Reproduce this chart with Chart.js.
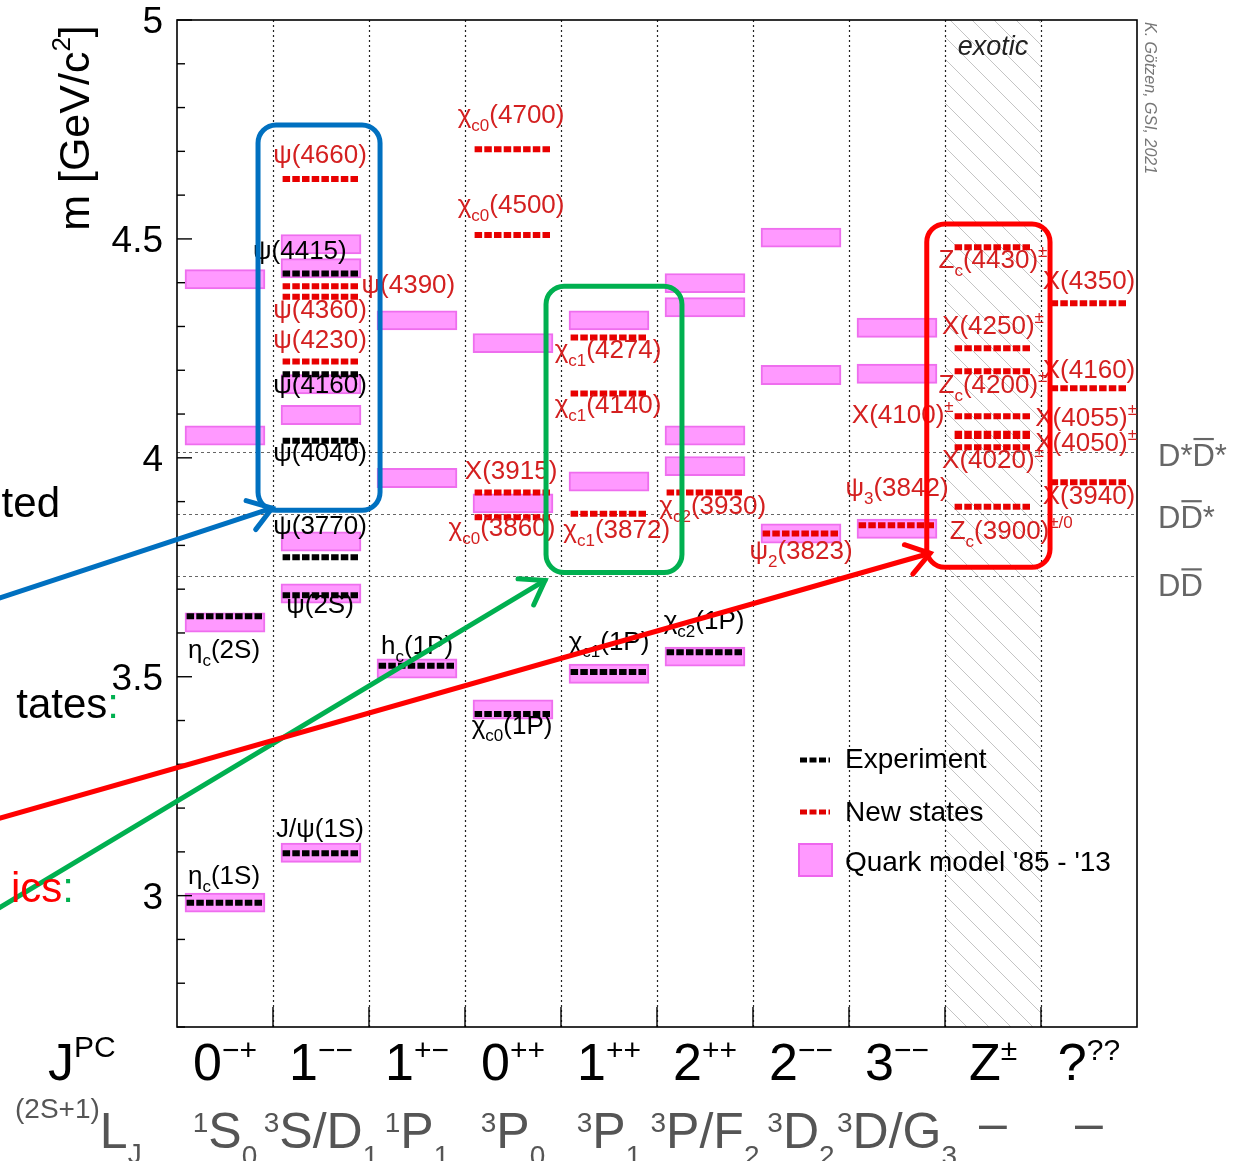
<!DOCTYPE html>
<html>
<head>
<meta charset="utf-8">
<script src="https://cdn.jsdelivr.net/npm/chart.js@4.4.1/dist/chart.umd.min.js"></script>
<style>
  html, body { margin: 0; padding: 0; background: #fff; }
  canvas { display: block; }
</style>
</head>
<body>
<canvas id="spectrum" width="1240" height="1161"></canvas>
<script>
//--------------------------------------------------------------------------------//
//                              Data
//--------------------------------------------------------------------------------//
// column headings (J^PC) and spectroscopic notation
var jpcLabels  = ['0^{−+}', '1^{−−}', '1^{+−}', '0^{++}', '1^{++}', '2^{++}', '2^{−−}', '3^{−−}', 'Z^{±}', '?^{??}'];
var waveLabels = ['^{1}S_{0}', '^{3}S/D_{1}', '^{1}P_{1}', '^{3}P_{0}', '^{3}P_{1}', '^{3}P/F_{2}', '^{3}D_{2}', '^{3}D/G_{3}', '–', '–'];
var massTicks  = [3, 3.5, 4, 4.5, 5];

// quark model predictions (pink boxes)
var modelCol  = [0, 0, 0, 0, 1, 1, 1, 1, 1, 1, 1, 2, 2, 2, 3, 3, 3, 4, 4, 4, 5, 5, 5, 5, 5, 6, 6, 6, 7, 7, 7];
var modelMass = [4.408, 4.051, 3.624, 2.984,
                 4.488, 4.433, 4.168, 4.098, 3.809, 3.690, 3.098,
                 4.314, 3.954, 3.519,
                 4.262, 3.896, 3.425,
                 4.314, 3.946, 3.507,
                 4.399, 4.344, 4.051, 3.981, 3.546,
                 4.503, 4.189, 3.827,
                 4.297, 4.192, 3.838];

// established states (black)
var expCol  = [0, 0, 1, 1, 1, 1, 1, 1, 2, 3, 4, 5];
var expMass = [3.638, 2.984, 4.421, 4.191, 4.039, 3.773, 3.686, 3.097, 3.525, 3.415, 3.511, 3.556];

// new states (red)
var newCol  = [1, 1, 1, 1, 3, 3, 3, 3, 4, 4, 4, 5, 6, 7, 8, 8, 8, 8, 8, 8, 8, 8, 9, 9, 9];
var newMass = [4.637, 4.392, 4.368, 4.220,
               4.705, 4.509, 3.921, 3.864,
               4.275, 4.147, 3.872,
               3.921, 3.827, 3.846,
               4.481, 4.250, 4.198, 4.095, 4.055, 4.050, 4.024, 3.888,
               4.353, 4.159, 3.944];

// state names (x = column units, y = mass of the text baseline)
var labelText = ['η_{c}(2S)', 'η_{c}(1S)', 'ψ(4660)', 'ψ(4415)', 'ψ(4390)', 'ψ(4360)', 'ψ(4230)', 'ψ(4160)',
                 'ψ(4040)', 'ψ(3770)', 'ψ(2S)', 'J/ψ(1S)', 'h_{c}(1P)', 'χ_{c0}(4700)', 'χ_{c0}(4500)', 'X(3915)',
                 'χ_{c0}(3860)', 'χ_{c0}(1P)', 'χ_{c1}(4274)', 'χ_{c1}(4140)', 'χ_{c1}(3872)', 'χ_{c1}(1P)',
                 'χ_{c2}(3930)', 'χ_{c2}(1P)', 'ψ_{2}(3823)', 'ψ_{3}(3842)', 'X(4100)^{±}', 'Z_{c}(4430)^{±}',
                 'X(4250)^{±}', 'Z_{c}(4200)^{±}', 'X(4020)^{±}', 'Z_{c}(3900)^{±/0}', 'X(4350)', 'X(4160)',
                 'X(4055)^{±}', 'X(4050)^{±}', 'X(3940)'];
var labelX = [0.49, 0.49, 1.49, 1.28, 2.41, 1.49, 1.49, 1.49, 1.49, 1.49, 1.49, 1.49, 2.5,
              3.48, 3.48, 3.48, 3.385, 3.49, 4.49, 4.49, 4.58, 4.5, 5.58, 5.49, 6.5, 7.5, 7.56,
              8.5, 8.5, 8.5, 8.5, 8.69, 9.5, 9.5, 9.47, 9.47, 9.5];
var labelY = [3.542, 3.027, 4.673, 4.454, 4.376, 4.319, 4.250, 4.147, 3.992, 3.825, 3.645, 3.135, 3.551,
              4.765, 4.559, 3.951, 3.821, 3.370, 4.227, 4.102, 3.816, 3.562, 3.871, 3.608, 3.768, 3.912, 4.079,
              4.433, 4.282, 4.147, 3.976, 3.814, 4.385, 4.182, 4.072, 4.015, 3.894];
var labelNew = [0, 0, 1, 0, 1, 1, 1, 0, 0, 0, 0, 0, 0, 1, 1, 1, 1, 0, 1, 1, 1, 0, 1, 0, 1, 1, 1,
                1, 1, 1, 1, 1, 1, 1, 1, 1, 1];

// open-charm thresholds
var thresholdMass  = [4.014, 3.872, 3.730];
var thresholdLabel = ['D*~{D}*', 'D~{D}*', 'D~{D}'];

// slide annotations (blue, green, red), in column / mass units
var markColor = ['#0070c0', '#00b050', '#ff0000'];
var markX0 = [0.844, 3.844, 7.81];
var markX1 = [2.115, 5.26, 9.094];
var markY0 = [4.76, 4.392, 4.534];
var markY1 = [3.88, 3.738, 3.75];
var arrowX0 = [-1.86, -1.86, -1.86];
var arrowY0 = [3.679, 2.971, 3.176];
var arrowX1 = [0.99, 3.833, 7.844];
var arrowY1 = [3.885, 3.72, 3.782];

//--------------------------------------------------------------------------------//
//                              Helpers
//--------------------------------------------------------------------------------//
var FONT = '"Liberation Sans", Arial, sans-serif';
var BOX_HALF = 0.022;

function levelPoints(cols, masses) {
    var pts = [];
    cols.forEach(function (c, i) {
        pts.push({x: c + 0.1, y: masses[i]});
        pts.push({x: c + 0.9, y: masses[i]});
        pts.push({x: c + 0.9, y: null});
    });
    return pts;
}

function parseRich(str) {
    var out = [], buf = '', i = 0;
    while (i < str.length) {
        var ch = str[i];
        if ((ch === '_' || ch === '^' || ch === '~') && str[i + 1] === '{') {
            if (buf) { out.push({t: buf, m: 'n'}); buf = ''; }
            var end = str.indexOf('}', i + 2);
            out.push({t: str.slice(i + 2, end), m: ch === '_' ? 'sub' : ch === '^' ? 'sup' : 'bar'});
            i = end + 1;
        } else { buf += ch; i++; }
    }
    if (buf) out.push({t: buf, m: 'n'});
    return out;
}

// small rich-text renderer: _{} subscript, ^{} superscript, ~{} overline
function drawRich(ctx, str, x, y, o) {
    var parts = parseRich(str);
    var small = o.small || 0.62;
    var fontFor = function (m) {
        var s = (m === 'sub' || m === 'sup') ? Math.round(o.size * small) : o.size;
        return (o.italic ? 'italic ' : '') + s + 'px ' + FONT;
    };
    var w = 0;
    parts.forEach(function (p) { ctx.font = fontFor(p.m); p.w = ctx.measureText(p.t).width; w += p.w; });
    ctx.save();
    ctx.translate(x, y);
    if (o.rot) ctx.rotate(o.rot);
    var cx = o.align === 'center' ? -w / 2 : o.align === 'right' ? -w : 0;
    ctx.fillStyle = o.color || '#000';
    ctx.strokeStyle = o.color || '#000';
    ctx.textAlign = 'left';
    ctx.textBaseline = 'alphabetic';
    parts.forEach(function (p) {
        ctx.font = fontFor(p.m);
        var dy = p.m === 'sub' ? o.size * (o.subDy || 0.3) : p.m === 'sup' ? -o.size * (o.supDy || 0.42) : 0;
        ctx.fillText(p.t, cx, dy);
        if (p.m === 'bar') {
            ctx.lineWidth = Math.max(1.5, o.size * 0.07);
            ctx.beginPath();
            ctx.moveTo(cx + 1, -o.size * 0.86);
            ctx.lineTo(cx + p.w - 1, -o.size * 0.86);
            ctx.stroke();
        }
        cx += p.w;
    });
    ctx.restore();
}

function drawArrow(ctx, x0, y0, x1, y1, color) {
    ctx.strokeStyle = color;
    ctx.lineWidth = 5;
    ctx.lineCap = 'round';
    ctx.beginPath(); ctx.moveTo(x0, y0); ctx.lineTo(x1, y1); ctx.stroke();
    var a = Math.atan2(y1 - y0, x1 - x0), L = 27, s = 0.6;
    ctx.beginPath();
    ctx.moveTo(x1 - L * Math.cos(a - s), y1 - L * Math.sin(a - s));
    ctx.lineTo(x1, y1);
    ctx.lineTo(x1 - L * Math.cos(a + s), y1 - L * Math.sin(a + s));
    ctx.stroke();
}

//--------------------------------------------------------------------------------//
//                              Plugins
//--------------------------------------------------------------------------------//
var backdrop = {
    id: 'backdrop',
    beforeDraw: function (chart) {
        var ctx = chart.ctx;
        ctx.save();
        ctx.fillStyle = '#fff';
        ctx.fillRect(0, 0, chart.width, chart.height);
        ctx.restore();
    },
    beforeDatasetsDraw: function (chart) {
        var ctx = chart.ctx, a = chart.chartArea, sx = chart.scales.x, sy = chart.scales.y;
        ctx.save();
        // hatched "exotic" column
        var hx0 = sx.getPixelForValue(8), hx1 = sx.getPixelForValue(9), h = a.bottom - a.top;
        ctx.beginPath(); ctx.rect(hx0, a.top, hx1 - hx0, h); ctx.clip();
        ctx.strokeStyle = '#c4c4c4'; ctx.lineWidth = 1;
        for (var x = hx0 - h; x < hx1; x += 22) {
            ctx.beginPath(); ctx.moveTo(x, a.top); ctx.lineTo(x + h, a.bottom); ctx.stroke();
        }
        ctx.restore();

        ctx.save();
        // column separators
        ctx.strokeStyle = '#222'; ctx.lineWidth = 1.2; ctx.setLineDash([2, 3]);
        for (var c = 1; c < jpcLabels.length; c++) {
            var xp = Math.round(sx.getPixelForValue(c)) + 0.5;
            ctx.beginPath(); ctx.moveTo(xp, a.top); ctx.lineTo(xp, a.bottom); ctx.stroke();
        }
        // thresholds
        ctx.strokeStyle = '#666'; ctx.lineWidth = 1; ctx.setLineDash([3, 3]);
        thresholdMass.forEach(function (m) {
            var yp = Math.round(sy.getPixelForValue(m)) + 0.5;
            ctx.beginPath(); ctx.moveTo(a.left, yp); ctx.lineTo(a.right, yp); ctx.stroke();
        });
        ctx.restore();
    },
    afterDatasetsDraw: function (chart) {
        var ctx = chart.ctx, a = chart.chartArea, sx = chart.scales.x, sy = chart.scales.y;
        ctx.save();
        // frame and ticks
        ctx.strokeStyle = '#000'; ctx.lineWidth = 1.6;
        ctx.strokeRect(a.left, a.top, a.right - a.left, a.bottom - a.top);
        ctx.lineWidth = 1.4;
        for (var t = 27; t <= 50; t++) {
            var yp = sy.getPixelForValue(t / 10);
            var len = (t % 5 === 0) ? 15 : 8;
            ctx.beginPath(); ctx.moveTo(a.left, yp); ctx.lineTo(a.left + len, yp); ctx.stroke();
        }
        for (var c = 1; c < jpcLabels.length; c++) {
            var xp = sx.getPixelForValue(c);
            ctx.beginPath(); ctx.moveTo(xp, a.bottom); ctx.lineTo(xp, a.bottom - 20); ctx.stroke();
        }
        ctx.restore();

        massTicks.forEach(function (m) {
            drawRich(ctx, String(m), a.left - 14, sy.getPixelForValue(m) + 13, {size: 37, align: 'right'});
        });

        // state names
        labelText.forEach(function (txt, i) {
            drawRich(ctx, txt, sx.getPixelForValue(labelX[i]), sy.getPixelForValue(labelY[i]),
                {size: 26, align: 'center', color: labelNew[i] ? '#d42020' : '#000', small: 0.64, subDy: 0.3, supDy: 0.45});
        });

        // exotic
        drawRich(ctx, 'exotic', sx.getPixelForValue(8.5), a.top + 35, {size: 27, align: 'center', italic: true, color: '#222'});

        // legend
        ctx.save();
        var lx = a.left + 623;
        ctx.lineWidth = 5; ctx.setLineDash([7, 2.5]);
        ctx.strokeStyle = '#000';
        ctx.beginPath(); ctx.moveTo(lx, a.top + 740); ctx.lineTo(lx + 30, a.top + 740); ctx.stroke();
        ctx.strokeStyle = '#e00000';
        ctx.beginPath(); ctx.moveTo(lx, a.top + 792); ctx.lineTo(lx + 30, a.top + 792); ctx.stroke();
        ctx.setLineDash([]);
        ctx.fillStyle = '#ff99ff'; ctx.strokeStyle = '#ee66ee'; ctx.lineWidth = 2;
        ctx.fillRect(lx - 1, a.top + 824, 33, 32); ctx.strokeRect(lx - 1, a.top + 824, 33, 32);
        ctx.restore();
        drawRich(ctx, 'Experiment', lx + 45, a.top + 748, {size: 28});
        drawRich(ctx, 'New states', lx + 45, a.top + 801, {size: 28});
        drawRich(ctx, "Quark model '85 - '13", lx + 45, a.top + 851, {size: 28});

        // threshold names
        thresholdMass.forEach(function (m, i) {
            drawRich(ctx, thresholdLabel[i], a.right + 21, sy.getPixelForValue(m) + 14 + (i === 2 ? 6 : 0),
                {size: 31, color: '#666'});
        });

        // column headings
        jpcLabels.forEach(function (txt, i) {
            drawRich(ctx, txt, sx.getPixelForValue(i + 0.5), a.bottom + 53,
                {size: 52, align: 'center', small: 0.58, supDy: 0.38});
        });
        waveLabels.forEach(function (txt, i) {
            drawRich(ctx, txt, sx.getPixelForValue(i + 0.5), a.bottom + 121 - (txt === '–' ? 8 : 0),
                {size: 50, align: 'center', color: '#555', small: 0.56, supDy: 0.32, subDy: 0.33});
        });
        drawRich(ctx, 'J^{PC}', 48, a.bottom + 53, {size: 52, small: 0.58, supDy: 0.45});
        drawRich(ctx, '^{(2S+1)}L_{J}', 15, a.bottom + 121, {size: 50, color: '#555', small: 0.56, supDy: 0.6, subDy: 0.3});

        // axis title
        drawRich(ctx, 'm [GeV/c^{2}]', 89, a.top + 108, {size: 43, align: 'center', rot: -Math.PI / 2, small: 0.6, supDy: 0.45});

        // credit
        drawRich(ctx, 'K. Götzen, GSI, 2021', a.right + 8, a.top + 2, {size: 16, italic: true, color: '#777', rot: Math.PI / 2});

        // slide annotations
        ctx.save();
        markColor.forEach(function (col, i) {
            var x0 = sx.getPixelForValue(markX0[i]), x1 = sx.getPixelForValue(markX1[i]);
            var y0 = sy.getPixelForValue(markY0[i]), y1 = sy.getPixelForValue(markY1[i]);
            ctx.strokeStyle = col; ctx.lineWidth = 5;
            ctx.beginPath(); ctx.roundRect(x0, y0, x1 - x0, y1 - y0, 18); ctx.stroke();
        });
        markColor.forEach(function (col, i) {
            drawArrow(ctx, sx.getPixelForValue(arrowX0[i]), sy.getPixelForValue(arrowY0[i]),
                sx.getPixelForValue(arrowX1[i]), sy.getPixelForValue(arrowY1[i]), col);
        });
        ctx.restore();

        // cut-off slide text on the left
        ctx.save();
        ctx.font = '42px ' + FONT; ctx.textBaseline = 'alphabetic'; ctx.textAlign = 'right';
        ctx.fillStyle = '#000'; ctx.fillText('ted', 60, 517);
        ctx.fillStyle = '#00b050'; ctx.fillText(':', 119, 718);
        var cw = ctx.measureText(':').width;
        ctx.fillStyle = '#000'; ctx.fillText('tates', 119 - cw, 718);
        ctx.fillStyle = '#00b050'; ctx.fillText(':', 74, 902);
        ctx.fillStyle = '#ff0000'; ctx.fillText('ics', 74 - cw, 902);
        ctx.restore();
    }
};

//--------------------------------------------------------------------------------//
//                              Chart
//--------------------------------------------------------------------------------//
var chart = new Chart(document.getElementById('spectrum'), {
    type: 'bar',
    data: {
        datasets: [{
            type: 'bar',
            label: "Quark model '85 - '13",
            data: modelCol.map(function (c, i) {
                return {x: c + 0.5, y: [modelMass[i] - BOX_HALF, modelMass[i] + BOX_HALF]};
            }),
            backgroundColor: '#ff99ff',
            borderColor: '#ee6eee',
            borderWidth: 2,
            borderSkipped: false,
            barThickness: 80,
            order: 3
        }, {
            type: 'line',
            label: 'Experiment',
            data: levelPoints(expCol, expMass),
            borderColor: '#000',
            borderWidth: 6,
            borderDash: [7.5, 2.2],
            borderCapStyle: 'butt',
            pointRadius: 0,
            spanGaps: false,
            order: 1
        }, {
            type: 'line',
            label: 'New states',
            data: levelPoints(newCol, newMass),
            borderColor: '#e80000',
            borderWidth: 6,
            borderDash: [7.5, 2.2],
            borderCapStyle: 'butt',
            pointRadius: 0,
            spanGaps: false,
            order: 2
        }]
    },
    options: {
        responsive: false,
        animation: false,
        devicePixelRatio: 1,
        layout: {padding: {left: 177, top: 20, right: 103, bottom: 134}},
        scales: {
            x: {type: 'linear', min: 0, max: 10, display: false, offset: false},
            y: {type: 'linear', min: 2.7, max: 5.0, display: false}
        },
        plugins: {legend: {display: false}, tooltip: {enabled: false}}
    },
    plugins: [backdrop]
});
</script>
</body>
</html>
